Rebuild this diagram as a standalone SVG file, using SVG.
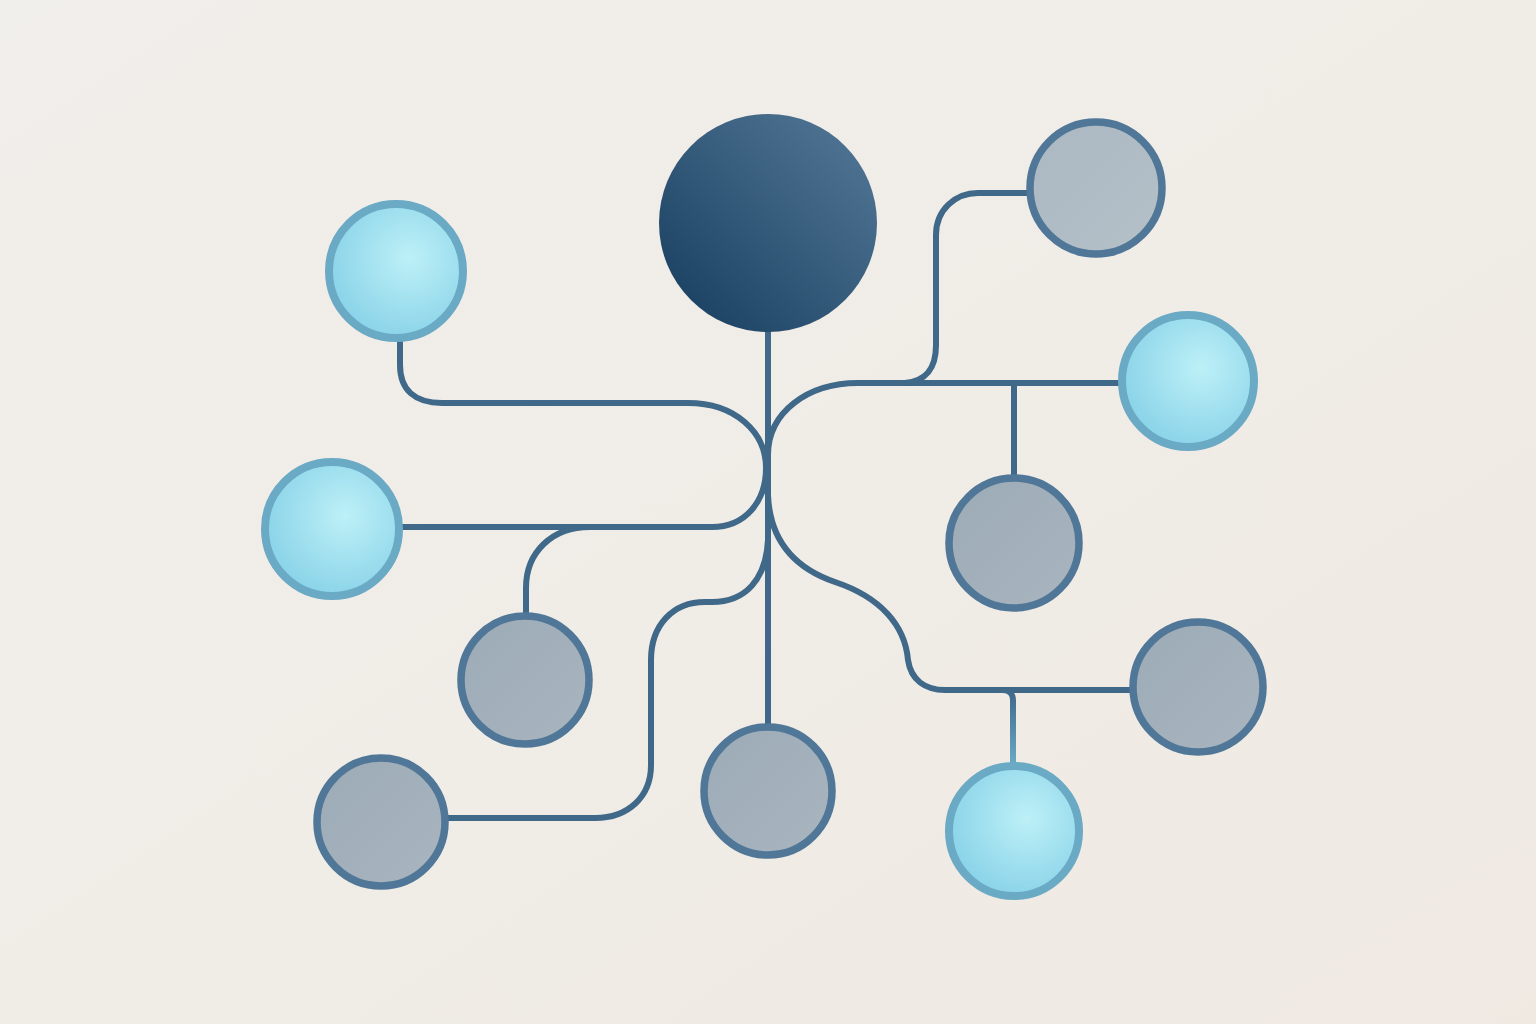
<svg xmlns="http://www.w3.org/2000/svg" width="1536" height="1024" viewBox="0 0 1536 1024">
<defs>
<linearGradient id="bg" x1="0" y1="0" x2="1" y2="1">
<stop offset="0" stop-color="#f1efeb"/>
<stop offset="1" stop-color="#efe9e2"/>
</linearGradient>
<linearGradient id="hub" x1="0.15" y1="0.85" x2="0.85" y2="0.15">
<stop offset="0" stop-color="#1f4566"/>
<stop offset="1" stop-color="#4c7190"/>
</linearGradient>
<radialGradient id="light" cx="0.6" cy="0.4" r="0.65">
<stop offset="0" stop-color="#bdf0f7"/>
<stop offset="1" stop-color="#88d2e8"/>
</radialGradient>
<linearGradient id="gray" x1="0" y1="0" x2="1" y2="1">
<stop offset="0" stop-color="#9cabb7"/>
<stop offset="1" stop-color="#a9b5bf"/>
</linearGradient>
<linearGradient id="grayl" x1="0" y1="0" x2="1" y2="1">
<stop offset="0" stop-color="#abb8c2"/>
<stop offset="1" stop-color="#b5c0c8"/>
</linearGradient>
<linearGradient id="branch" x1="0" y1="0" x2="0" y2="1">
<stop offset="0" stop-color="#3f6889"/>
<stop offset="1" stop-color="#6aaac5"/>
</linearGradient>
</defs>
<style>
.edge{fill:none;stroke:#3f6889;stroke-width:6;stroke-linecap:butt;stroke-linejoin:round}
.lt{fill:url(#light);stroke:#6aaac5;stroke-width:8}
.gr{fill:url(#gray);stroke:#507797;stroke-width:7.5}
.grl{fill:url(#grayl);stroke:#507797;stroke-width:7.5}
</style>
<rect width="1536" height="1024" fill="url(#bg)"/>
<g id="connectors">
<path class="edge" d="M768 330 V724"/>
<path class="edge" d="M400 340 V365 C400 390 415 403 442 403 H688 C735 403 766 432 766 468 C766 502 745 527 712 527 H400"/>
<path class="edge" d="M526 614 V588 C526 552 552 527 590 527"/>
<path class="edge" d="M768 455 C768 412 808 383 858 383 H1120"/>
<path class="edge" d="M1028 193 H978 C955 193 936 210 936 235 V345 C936 370 925 381 905 383"/>
<path class="edge" d="M1014 383 V476"/>
<path class="edge" d="M768 495 C770 545 800 570 835 582 C880 597 905 625 908 660 C911 680 925 690 945 690 H1132"/>
<path class="edge" d="M1003 690 C1009 690 1013 694 1013 700 V765" style="stroke:url(#branch)"/>
<path class="edge" d="M768 540 C766 580 745 602 712 602 H705 C673 602 651 625 651 660 V765 C651 797 628 818 595 818 H447"/>
</g>
<g id="hub"><circle cx="768" cy="223" r="109" fill="url(#hub)"/></g>
<g id="n1"><circle class="lt" cx="396" cy="271" r="67"/></g>
<g id="n2"><circle class="lt" cx="332" cy="529" r="67"/></g>
<g id="n3"><circle class="gr" cx="525" cy="680" r="64"/></g>
<g id="n4"><circle class="gr" cx="381" cy="822" r="64"/></g>
<g id="n5"><circle class="gr" cx="768" cy="791" r="64"/></g>
<g id="n6"><circle class="grl" cx="1096" cy="188" r="66"/></g>
<g id="n7"><circle class="lt" cx="1188" cy="381" r="66"/></g>
<g id="n8"><circle class="gr" cx="1014" cy="543" r="65"/></g>
<g id="n9"><circle class="gr" cx="1198" cy="687" r="65"/></g>
<g id="n10"><circle class="lt" cx="1014" cy="831" r="65"/></g>
</svg>
